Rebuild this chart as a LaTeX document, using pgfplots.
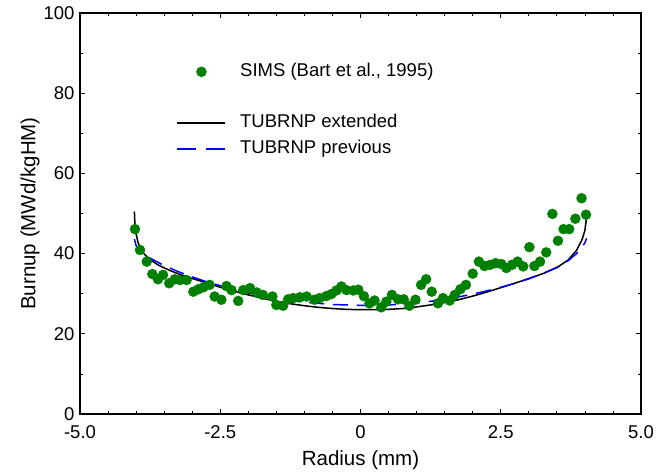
\documentclass[border=0pt]{standalone}
\usepackage{pgfplots}
\pgfplotsset{compat=1.18}
\usepackage{fontspec}
\setmainfont{Liberation Sans}
\definecolor{simsgreen}{RGB}{0,128,0}
\definecolor{prevblue}{RGB}{0,0,255}
\begin{document}
\begin{tikzpicture}
\begin{axis}[
  at={(0pt,0pt)}, anchor=south west,
  scale only axis, width=561pt, height=401pt,
  xmin=-5, xmax=5, ymin=0, ymax=100,
  xtick={-5,-2.5,0,2.5,5}, xticklabels={-5.0,-2.5,0,2.5,5.0},
  minor x tick num=4,
  ytick={0,20,40,60,80,100}, yticklabels={0,20,40,60,80,100},
  minor y tick num=1,
  tick align=inside,
  major tick length=5pt, minor tick length=3pt,
  axis line style={line width=1.6pt},
  every tick/.style={black, line width=0.8pt},
  tick label style={font=\fontsize{18.5}{22}\selectfont},
  xticklabel style={yshift=-8pt},
  yticklabel style={xshift=-2pt},
  label style={font=\fontsize{20.5}{24}\selectfont},
  xlabel={Radius (mm)}, ylabel={Burnup (MWd/kgHM)},
  x label style={at={(axis description cs:0.5,-0.115)}, anchor=center},
  y label style={at={(axis description cs:-0.089,0.5)}, anchor=center},
  legend style={at={(rel axis cs:0.172,0.88)}, anchor=north west, draw=none, fill=none,
    font=\fontsize{18.5}{22}\selectfont, inner sep=0pt, row sep=4.7pt, column sep=12pt,
    nodes={text height=13pt, text depth=4pt, inner ysep=2pt}},
  legend cell align=left,
  legend image code/.code={\draw[mark repeat=2,mark phase=2] plot coordinates {(0pt,0pt) (24pt,0pt) (48pt,0pt)};},
]
\addplot[only marks, mark=*, mark size=5pt, color=simsgreen] coordinates {
(-4.02,46.1) (-3.93,40.9) (-3.81,38.0) (-3.71,34.9) (-3.61,33.6) (-3.52,34.7)
(-3.41,32.6) (-3.31,33.6) (-3.22,33.4) (-3.10,33.4) (-2.98,30.5) (-2.89,31.1)
(-2.80,31.6) (-2.69,32.2) (-2.60,29.3) (-2.48,28.5) (-2.39,31.9) (-2.30,30.9)
(-2.18,28.2) (-2.09,30.9) (-1.97,31.4) (-1.85,30.3) (-1.74,29.7) (-1.57,29.3)
(-1.50,27.2) (-1.38,27.0) (-1.29,28.6) (-1.20,28.9) (-1.08,29.1) (-0.96,29.3)
(-0.82,28.5) (-0.73,28.9) (-0.61,29.4) (-0.52,29.9) (-0.43,30.8) (-0.34,31.8)
(-0.25,30.9) (-0.13,30.8) (-0.04,31.0) (0.06,29.4) (0.16,27.6) (0.25,28.3)
(0.37,26.6) (0.46,28.0) (0.56,29.7) (0.67,28.6) (0.77,28.6) (0.87,27.0)
(0.98,28.5) (1.08,32.2) (1.17,33.6) (1.27,30.5) (1.38,27.6) (1.47,28.9)
(1.59,28.3) (1.68,29.7) (1.78,31.1) (1.88,32.2) (2.00,35.0) (2.11,38.0)
(2.21,36.9) (2.31,37.2) (2.41,37.6) (2.51,37.4) (2.60,36.4) (2.70,37.2)
(2.80,38.0) (2.90,36.8) (3.01,41.6) (3.10,36.9) (3.20,38.0) (3.31,40.3)
(3.42,49.9) (3.52,43.2) (3.62,46.1) (3.72,46.1) (3.83,48.7) (3.94,53.8)
(4.02,49.7)
};
\addlegendentry{SIMS (Bart et al., 1995)}
\addlegendimage{empty legend}
\addlegendentry{}
\addplot[black, line width=1.5pt, mark=none] coordinates {
(-4.03,50.5) (-4.025,48.5) (-4.015,46.5) (-4.00,45.0) (-3.97,43.0) (-3.93,41.4)
(-3.85,39.8) (-3.75,38.5) (-3.60,37.1) (-3.40,35.8) (-3.20,34.7) (-3.00,33.8)
(-2.75,32.7) (-2.50,31.6) (-2.25,30.6) (-2.00,29.7) (-1.75,28.9) (-1.50,28.1)
(-1.25,27.5) (-1.00,27.0) (-0.75,26.6) (-0.50,26.3) (-0.25,26.1) (0.00,26.0)
(0.25,26.0) (0.50,26.1) (0.75,26.3) (1.00,26.7) (1.25,27.2) (1.50,27.8)
(1.75,28.5) (2.00,29.4) (2.25,30.4) (2.50,31.5) (2.75,32.6) (3.00,33.8)
(3.25,35.0) (3.50,36.5) (3.70,38.4) (3.85,40.8) (3.95,43.5) (4.00,45.8)
(4.02,48.0) (4.03,50.0)
};
\addlegendentry{TUBRNP extended}
\addplot[prevblue, line width=1.5pt, mark=none, dash pattern=on 15pt off 9pt,
  legend image post style={dash pattern=on 19pt off 10pt}] coordinates {
(-4.03,43.6) (-4.00,42.0) (-3.95,40.8) (-3.85,39.6) (-3.70,38.5) (-3.50,37.0)
(-3.25,35.5) (-3.00,34.2) (-2.75,33.0) (-2.50,32.0) (-2.25,31.0) (-2.00,30.2)
(-1.75,29.4) (-1.50,28.8) (-1.25,28.3) (-1.00,27.9) (-0.75,27.6) (-0.50,27.3)
(-0.25,27.2) (0.00,27.1) (0.25,27.1) (0.50,27.2) (0.75,27.4) (1.00,27.7)
(1.25,28.1) (1.50,28.6) (1.75,29.2) (2.00,29.9) (2.25,30.7) (2.50,31.6)
(2.75,32.6) (3.00,33.7) (3.25,35.0) (3.50,36.6) (3.70,38.2) (3.85,40.0)
(3.95,41.6) (4.00,42.7) (4.03,43.8)
};
\addlegendentry{TUBRNP previous}
\end{axis}
\pgfresetboundingbox
\path (-80pt,-58pt) rectangle (586pt,414pt);
\end{tikzpicture}
\end{document}
